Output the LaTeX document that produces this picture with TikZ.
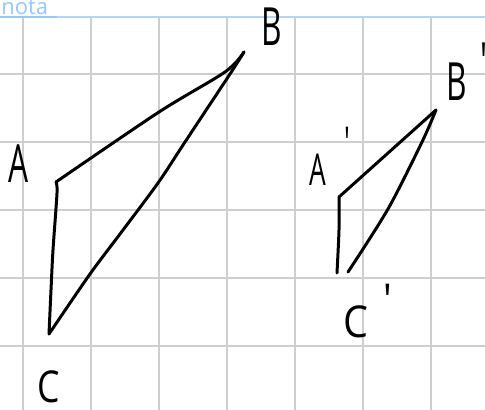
\documentclass[tikz,border=0pt]{standalone}
\usepackage{fontspec}
\setsansfont{Open Sans}
\usepackage{tikz}
\definecolor{gridgray}{RGB}{206,206,206}
\definecolor{notablue}{RGB}{150,200,250}
\definecolor{ruleblue}{RGB}{178,214,248}

\tikzset{
  gridline/.style={gridgray, line width=1.1pt},
  hand/.style={black, line width=1.7pt, line cap=round, line join=round},
  bigletter/.style={font=\sffamily\fontsize{30}{32}\selectfont, inner sep=0pt, anchor=base west, xscale=0.6},
  smallletter/.style={font=\sffamily\fontsize{25}{27}\selectfont, inner sep=0pt, anchor=base west, xscale=0.6}
}

\begin{document}
\begin{tikzpicture}[x=0.02cm, y=-0.02cm]
    \useasboundingbox (0,0) rectangle (485,410);
    \fill[white] (0,0) rectangle (485,410);
    % page header
    \node[font=\sffamily\fontsize{12.5}{13}\selectfont, text=notablue, inner sep=0pt, anchor=base west] (nota) at (1,14) {nota};
    \draw[ruleblue, line width=0.8pt] (0,17) -- (485,17);
    \draw[notablue, line width=1.1pt] (0,17) -- (57,17);
    % squared paper
    \foreach \gx in {23,91,...,431}
      \draw[gridline] (\gx,17.5) -- (\gx,410);
    \foreach \gy in {74,142,...,346}
      \draw[gridline] (0,\gy) -- (485,\gy);

    % triangle ABC
    \coordinate (A) at (56,182);
    \coordinate (B) at (244,52);
    \coordinate (C) at (49,334);
    \draw[hand] plot[smooth, tension=0.5] coordinates {(A) (57,193) (53,250) (51,290) (C)};
    \draw[hand] plot[smooth, tension=0.5] coordinates {(C) (90,274) (120,234) (158,183) (185,142) (230,74) (B)};
    \draw[hand] plot[smooth, tension=0.5] coordinates {(B) (225,72) (159,112) (A)};
    \node[bigletter] (lA) at (8,182) {A};
    \node[bigletter] (lB) at (261,45) {B};
    \node[smallletter, xscale=1.35] (lC) at (37,402) {C};

    % triangle A'B'C'
    \coordinate (Ap) at (339,197);
    \coordinate (Bp) at (436,110);
    \coordinate (Cpl) at (337,273);
    \coordinate (Cpr) at (348,272);
    \draw[hand] (Ap) -- (Bp);
    \draw[hand] plot[smooth, tension=0.5] coordinates {(Bp) (422,142) (388,209) (Cpr)};
    \draw[hand] plot[smooth, tension=0.5] coordinates {(Ap) (339,230) (Cpl)};
    \node[smallletter] (lAp) at (309,185) {A\hspace{18pt}\raisebox{15pt}{\textquotesingle}};
    \node[bigletter] (lBp) at (446,100) {B\hspace{13pt}\raisebox{11pt}{\textquotesingle}};
    \node[smallletter, xscale=1.5] (lCp) at (343,337) {C\hspace{9.5pt}\raisebox{12pt}{\textquotesingle}};
\end{tikzpicture}
\end{document}
